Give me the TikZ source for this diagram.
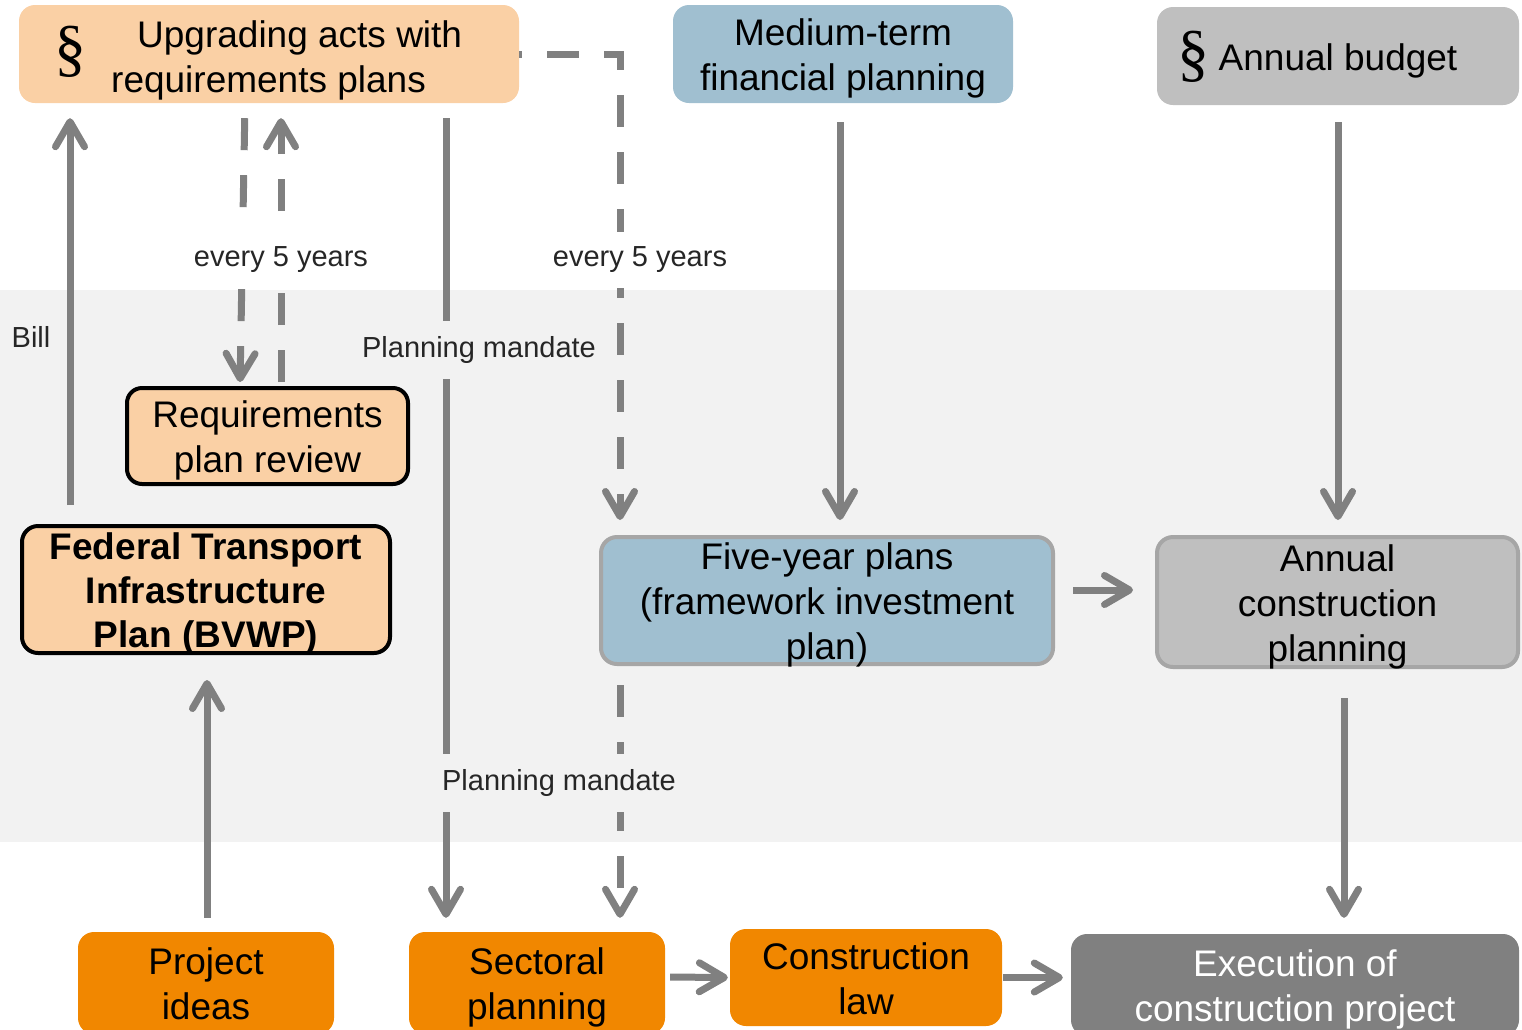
\documentclass[tikz,border=0pt]{standalone}
\usepackage{fontspec}
\setmainfont{Liberation Sans}
\newfontfamily\parafont{Liberation Serif}
\usetikzlibrary{arrows.meta}
\definecolor{peach}{HTML}{FAD0A5}
\definecolor{steel}{HTML}{A0BFD0}
\definecolor{silver}{HTML}{BFBFBF}
\definecolor{amber}{HTML}{F18700}
\definecolor{slate}{HTML}{808080}
\definecolor{band}{HTML}{F2F2F2}
\definecolor{rim}{HTML}{A6A6A6}
\definecolor{ink}{HTML}{262626}
\newcommand{\lines}[2][c]{\raisebox{-5pt}[\dimexpr\height-8pt\relax][\dimexpr\depth-8pt\relax]{\begin{tabular}{@{}#1@{}}#2\end{tabular}}}
\tikzset{box/.style={rounded corners=16pt, inner sep=0pt, font=\fontsize{37}{45}\selectfont}}
\tikzset{flow/.style={draw=slate, line width=7pt, -{Straight Barb[length=25pt, width=29pt, round]}}}
\tikzset{dflow/.style={flow, dash pattern=on 32pt off 25pt}}
\tikzset{lbl/.style={inner xsep=4pt, inner ysep=15pt, text=ink, font=\fontsize{29}{33}\selectfont}}
\tikzset{para/.style={inner sep=0pt, font=\parafont\fontsize{64}{64}\selectfont}}

\begin{document}
\begin{tikzpicture}[x=1pt, y=-1pt]
    \useasboundingbox (0, 0) rectangle (1522, 1029);
    \fill[band] (0, 290) rectangle (1522, 842);

    \node[box, fill=peach, minimum width=500pt, minimum height=98pt] (ua) at (269, 54) {};
    \node[box, anchor=west] (uatext) at (111, 56) {\lines[l]{\hspace*{26pt}Upgrading acts with\\requirements plans}};
    \node[para] (uapara) at (70, 52) {\S};

    \node[box, fill=steel, minimum width=340pt, minimum height=98pt] (mtfp) at (843, 54) {\lines{Medium-term\\financial planning}};

    \node[box, fill=silver, minimum width=362pt, minimum height=98pt] (ab) at (1338, 56) {\lines{Annual budget}};
    \node[para] (abpara) at (1193, 57) {\S};

    \node[box, fill=peach, draw=black, line width=4pt, rounded corners=15pt, minimum width=281pt, minimum height=96pt] (rpr) at (267.5, 436) {\lines{Requirements\\plan review}};
    \node[box, fill=peach, draw=black, line width=4pt, minimum width=368pt, minimum height=127pt, font=\bfseries\fontsize{37}{44}\selectfont] (bvwp) at (206, 589.5) {\lines{Federal Transport\\Infrastructure\\Plan (BVWP)}};

    \node[box, fill=steel, draw=rim, line width=4pt, minimum width=452pt, minimum height=127pt] (fyp) at (827, 600.5) {\lines{Five-year plans\\(framework investment\\plan)}};
    \node[box, fill=silver, draw=rim, line width=4pt, minimum width=361pt, minimum height=130pt] (acp) at (1337.5, 602) {\lines{Annual\\construction\\planning}};

    \node[box, fill=amber, minimum width=256pt, minimum height=102pt] (pi) at (206, 983) {\lines{Project\\ideas}};
    \node[box, fill=amber, minimum width=256pt, minimum height=102pt] (sp) at (537, 983) {\lines{Sectoral\\planning}};
    \node[box, fill=amber, minimum width=272pt, minimum height=97pt] (cl) at (866, 977.5) {\lines{Construction\\law}};
    \node[box, fill=slate, text=white, minimum width=448pt, minimum height=102pt] (ex) at (1295, 985) {\lines{Execution of\\construction project}};

    \draw[flow, shorten <=19pt, shorten >=15pt] ([xshift=-136pt]bvwp.north) -- ([xshift=-199pt]ua.south);
    \draw[dflow, shorten <=15pt, shorten >=4pt] ([xshift=-24pt]ua.south) -- ([xshift=-27.5pt]rpr.north);
    \draw[dflow, shorten <=4pt, shorten >=15pt] ([xshift=13.5pt]rpr.north) -- ([xshift=12pt]ua.south);
    \draw[flow, shorten <=15pt, shorten >=14pt] ([xshift=177pt]ua.south) -- ([xshift=-91pt]sp.north);
    \draw[dflow, dash phase=29pt, shorten >=15pt] (ua.east) -| ([xshift=-207pt]fyp.north);
    \draw[dflow, shorten <=19pt, shorten >=14pt] ([xshift=-207pt]fyp.south) -- ([xshift=83pt]sp.north);
    \draw[flow, shorten <=19pt, shorten >=15pt] ([xshift=-3pt]mtfp.south) -- ([xshift=13pt]fyp.north);
    \draw[flow, shorten <=17pt, shorten >=15pt] (ab.south) -- ([xshift=0.5pt]acp.north);
    \draw[flow, shorten <=18pt, shorten >=22pt] ([yshift=10.5pt]fyp.east) -- ([yshift=12pt]acp.west);
    \draw[flow, shorten <=29pt, shorten >=16pt] ([xshift=6.5pt]acp.south) -- ([xshift=49pt]ex.north);
    \draw[flow, shorten <=14pt, shorten >=25pt] ([xshift=1pt]pi.north) -- ([xshift=1pt]bvwp.south);
    \draw[flow, shorten <=5pt, shorten >=2pt] ([yshift=6pt]sp.east) -- (cl.west);
    \draw[flow, shorten <=1pt, shorten >=8pt] (cl.east) -- ([yshift=7.5pt]ex.west);

    \node[lbl, fill=band] (billlbl) at (31, 337) {Bill};
    \node[lbl, fill=white] (fiveleft) at (281, 260) {every 5 years};
    \node[lbl, fill=white] (fiveright) at (640, 260) {every 5 years};
    \node[lbl, fill=band] (mandtop) at (479, 350) {Planning mandate};
    \node[lbl, fill=band] (mandbot) at (559, 783) {Planning mandate};
\end{tikzpicture}
\end{document}
